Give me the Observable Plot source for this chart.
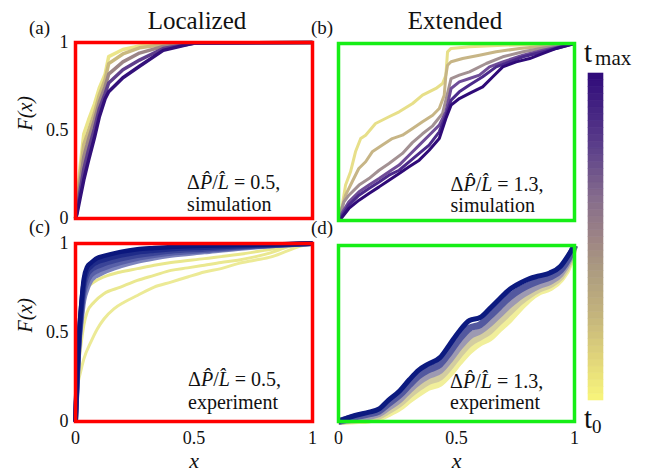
<!DOCTYPE html>
<html><head><meta charset="utf-8">
<script src="https://cdn.jsdelivr.net/npm/d3@7"></script>
<script src="https://cdn.jsdelivr.net/npm/@observablehq/plot@0.6"></script>
<style>
body{margin:0;background:#fff;}
#chart{position:relative;width:647px;height:472px;overflow:hidden;background:#fff;font-family:"Liberation Serif","DejaVu Serif","Times New Roman",serif;}
#chart svg{overflow:visible;}
#chart svg text{font-family:"Liberation Serif","DejaVu Serif","Times New Roman",serif;}
</style></head><body><div id="chart"></div>
<script>
// ---------- DATA ----------
// (a) Localized, simulation: F(x) curves from t0 (first) to tmax (last)
const aX = [0, 0.006, 0.02, 0.035, 0.055, 0.08, 0.1, 0.125, 0.14, 0.2, 0.27, 0.37, 0.5, 1];
const aF_t0 = [0, 0.09, 0.3, 0.48, 0.56, 0.65, 0.74, 0.82, 0.92, 0.96, 0.98, 0.993, 0.998, 1];
const aF_t1 = [0, 0.07, 0.26, 0.42, 0.5, 0.6, 0.7, 0.79, 0.88, 0.935, 0.97, 0.988, 0.997, 1];
const aF_t2 = [0, 0.05, 0.21, 0.35, 0.45, 0.56, 0.66, 0.75, 0.82, 0.89, 0.94, 0.978, 0.996, 1];
const aF_t3 = [0, 0.035, 0.16, 0.28, 0.39, 0.51, 0.62, 0.71, 0.77, 0.845, 0.9, 0.966, 0.996, 1];
const aF_tmax = [0, 0.025, 0.12, 0.22, 0.33, 0.46, 0.575, 0.68, 0.72, 0.8, 0.865, 0.955, 0.997, 1];

// (b) Extended, simulation: [x, F] pairs
const b_t0 = [[0,0],[0.016,0.086],[0.03,0.2],[0.051,0.275],[0.072,0.388],[0.094,0.463],[0.115,0.482],[0.157,0.548],[0.214,0.586],[0.257,0.614],[0.314,0.661],[0.356,0.708],[0.413,0.746],[0.441,0.774],[0.455,0.821],[0.462,0.953],[0.477,0.972],[0.555,0.981],[0.697,0.99],[0.84,0.995],[1,1]];
const b_t1 = [[0,0],[0.01,0.05],[0.03,0.143],[0.058,0.219],[0.086,0.294],[0.115,0.332],[0.143,0.388],[0.186,0.426],[0.228,0.463],[0.271,0.482],[0.314,0.52],[0.356,0.558],[0.399,0.595],[0.427,0.633],[0.448,0.708],[0.455,0.821],[0.462,0.877],[0.477,0.897],[0.526,0.915],[0.597,0.934],[0.668,0.953],[0.767,0.972],[0.909,0.99],[1,1]];
const b_t2 = [[0,0],[0.023,0.105],[0.044,0.143],[0.087,0.2],[0.129,0.237],[0.172,0.284],[0.214,0.322],[0.271,0.379],[0.313,0.44],[0.356,0.49],[0.399,0.535],[0.441,0.605],[0.462,0.718],[0.477,0.802],[0.512,0.821],[0.555,0.84],[0.626,0.887],[0.696,0.925],[0.782,0.953],[0.867,0.975],[1,1]];
const b_t3 = [[0,0],[0.009,0.03],[0.044,0.105],[0.087,0.162],[0.129,0.2],[0.172,0.237],[0.214,0.275],[0.257,0.313],[0.299,0.369],[0.342,0.426],[0.384,0.482],[0.427,0.539],[0.455,0.614],[0.477,0.746],[0.512,0.783],[0.555,0.802],[0.597,0.821],[0.64,0.868],[0.696,0.896],[0.782,0.934],[0.867,0.962],[1,1]];
const b_t4 = [[0,0],[0.01,0.02],[0.044,0.087],[0.087,0.143],[0.129,0.181],[0.172,0.218],[0.214,0.256],[0.257,0.284],[0.299,0.331],[0.342,0.379],[0.384,0.426],[0.427,0.501],[0.455,0.595],[0.477,0.68],[0.512,0.727],[0.555,0.765],[0.611,0.812],[0.668,0.868],[0.725,0.896],[0.782,0.925],[0.867,0.953],[1,1]];
const b_tmax = [[0,0],[0.01,0.01],[0.044,0.068],[0.087,0.115],[0.129,0.153],[0.172,0.19],[0.214,0.228],[0.257,0.266],[0.299,0.303],[0.342,0.341],[0.384,0.397],[0.427,0.463],[0.455,0.576],[0.477,0.652],[0.512,0.689],[0.555,0.718],[0.611,0.755],[0.654,0.812],[0.696,0.868],[0.753,0.896],[0.81,0.915],[0.867,0.944],[0.923,0.972],[1,1]];

// (c) Localized, experiment: early (yellow) curves as [x, F] pairs
const c_t0 = [[0,0],[0.007,0.181],[0.021,0.275],[0.035,0.35],[0.064,0.444],[0.092,0.52],[0.12,0.576],[0.162,0.633],[0.205,0.67],[0.261,0.708],[0.332,0.755],[0.403,0.783],[0.473,0.812],[0.544,0.84],[0.614,0.859],[0.685,0.887],[0.756,0.906],[0.826,0.925],[0.883,0.953],[0.939,0.981],[1,1]];
const c_t1 = [[0,0],[0.007,0.237],[0.021,0.407],[0.035,0.539],[0.049,0.614],[0.078,0.67],[0.12,0.718],[0.19,0.755],[0.261,0.793],[0.332,0.821],[0.403,0.849],[0.473,0.863],[0.544,0.878],[0.614,0.893],[0.685,0.906],[0.756,0.925],[0.826,0.949],[0.897,0.981],[1,1]];
const c_t2 = [[0,0],[0.007,0.313],[0.021,0.539],[0.035,0.689],[0.049,0.746],[0.078,0.783],[0.12,0.812],[0.19,0.84],[0.261,0.859],[0.332,0.878],[0.403,0.893],[0.544,0.915],[0.685,0.938],[0.826,0.968],[0.911,0.987],[1,1]];
// (c) later curves (dense band) on a shared x grid
const cX = [0, 0.007, 0.014, 0.024, 0.035, 0.049, 0.064, 0.078, 0.092, 0.12, 0.19, 0.261, 0.332, 0.403, 0.544, 0.685, 0.826, 1];
const cF_t3 = [0, 0.2, 0.407, 0.56, 0.68, 0.745, 0.79, 0.81, 0.821, 0.84, 0.874, 0.9, 0.919, 0.934, 0.953, 0.972, 0.987, 1];
const cF_t4 = [0, 0.22, 0.424, 0.585, 0.715, 0.782, 0.82, 0.836, 0.846, 0.862, 0.893, 0.916, 0.932, 0.945, 0.96, 0.976, 0.988, 1];
const cF_t5 = [0, 0.24, 0.44, 0.61, 0.75, 0.82, 0.848, 0.862, 0.871, 0.885, 0.912, 0.932, 0.945, 0.956, 0.968, 0.981, 0.99, 1];
const cF_t6 = [0, 0.26, 0.452, 0.632, 0.778, 0.846, 0.87, 0.886, 0.896, 0.908, 0.933, 0.951, 0.961, 0.969, 0.978, 0.986, 0.992, 1];
const cF_tmax = [0, 0.275, 0.463, 0.652, 0.802, 0.868, 0.89, 0.906, 0.918, 0.93, 0.953, 0.968, 0.975, 0.981, 0.987, 0.991, 0.994, 1];

// (d) Extended, experiment
const dX = [0, 0.07, 0.13, 0.17, 0.21, 0.26, 0.30, 0.34, 0.38, 0.43, 0.47, 0.51, 0.555, 0.60, 0.64, 0.68, 0.725, 0.77, 0.81, 0.85, 0.895, 0.94, 0.98, 1];
const dF_t0 = [0, 0.004, 0.009, 0.019, 0.043, 0.08, 0.122, 0.16, 0.194, 0.217, 0.269, 0.335, 0.401, 0.448, 0.473, 0.524, 0.58, 0.646, 0.699, 0.736, 0.759, 0.806, 0.9, 1];
const dF_t1 = [0, 0.009, 0.018, 0.03, 0.06, 0.102, 0.15, 0.192, 0.227, 0.252, 0.308, 0.377, 0.443, 0.48, 0.513, 0.565, 0.622, 0.68, 0.72, 0.752, 0.776, 0.82, 0.913, 1];
const dF_t2 = [0, 0.016, 0.03, 0.043, 0.079, 0.126, 0.18, 0.226, 0.26, 0.29, 0.35, 0.42, 0.485, 0.515, 0.556, 0.607, 0.664, 0.713, 0.745, 0.772, 0.795, 0.838, 0.928, 1];
const dF_t3 = [0, 0.025, 0.043, 0.058, 0.1, 0.152, 0.208, 0.26, 0.293, 0.325, 0.392, 0.466, 0.53, 0.55, 0.598, 0.65, 0.707, 0.75, 0.778, 0.8, 0.82, 0.858, 0.94, 1];
const dF_tmax = [0, 0.034, 0.053, 0.070, 0.119, 0.175, 0.237, 0.292, 0.326, 0.363, 0.435, 0.51, 0.574, 0.591, 0.64, 0.693, 0.75, 0.787, 0.812, 0.827, 0.844, 0.881, 0.957, 1];

// tick labels and texts
const axisTicks = [0, 0.5, 1];
const columnTitles = ["Localized", "Extended"];
const panelLabels = ["(a)", "(b)", "(c)", "(d)"];
const ratioValues = ["0.5", "1.3", "0.5", "1.3"];
const sourceLabels = ["simulation", "simulation", "experiment", "experiment"];

// ---------- STYLE ----------
const FONT = '"Liberation Serif", "DejaVu Serif", "Times New Roman", serif';
const RED = "#ff0000", GREEN = "#16ee16";
const palA = ["#ebe58a", "#c9b97f", "#9c8686", "#5f3f8c", "#33107a"];
const palB = ["#e7df89", "#c7b586", "#a39193", "#6f4d98", "#4b2a8b", "#2f0a78"];
const palC = ["#ecea96", "#eae890", "#e9e78c", "#7d84bd", "#5860a8", "#3a4497", "#1f2b89", "#0b177d"];
const palD = ["#f1ef9b", "#d3cda0", "#9d99b2", "#53589f", "#0c1a80"];
const cbDomain = [0, 0.12, 0.25, 0.4, 0.5, 0.62, 0.78, 1];
const cbRange = ["#f9f67b", "#e2d77a", "#c6b67c", "#ab9a80", "#9c8385", "#856c8c", "#5a3d8a", "#2f0a7a"];

const chart = document.getElementById("chart");
function place(node, left, top, w, h) {
  const div = document.createElement("div");
  div.style.cssText = `position:absolute;left:${left}px;top:${top}px;width:${w}px;height:${h}px;`;
  div.appendChild(node);
  chart.appendChild(div);
}
const toPts = (X, F) => F.map((f, i) => ({x: X[i], F: f}));
const fromPairs = (P) => P.map(([x, f]) => ({x, F: f}));

function panel({series, palette, widths, curve, frameColor, left, top, width, height, m, yAxis, xAxis, annot}) {
  const marks = series.map((pts, i) => Plot.line(pts, {x: "x", y: "F", curve, stroke: palette[i], strokeWidth: widths[i], strokeLinejoin: "round", strokeLinecap: "butt"}));
  marks.push(Plot.frame({stroke: frameColor, strokeWidth: 3.5}));
  if (yAxis) {
    marks.push(Plot.axisY({ticks: axisTicks, tickSize: 0, tickPadding: 7, tickFormat: d => String(d), label: null}));
    marks.push(Plot.text(["F(x)"], {text: d => d, frameAnchor: "left", dx: -50, rotate: -90, fontStyle: "italic", fontSize: 20}));
  }
  if (xAxis) {
    marks.push(Plot.axisX({ticks: axisTicks, tickSize: 0, tickPadding: 10, tickFormat: d => String(d), label: null}));
    marks.push(Plot.text(["x"], {text: d => d, frameAnchor: "bottom", dy: 46, fontStyle: "italic", fontSize: 22}));
  }
  const p = Plot.plot({
    width, height,
    marginLeft: m[0], marginRight: m[1], marginTop: m[2], marginBottom: m[3],
    x: {domain: [0, 1], axis: null},
    y: {domain: [0, 1], axis: null},
    style: {fontFamily: FONT, fontSize: "18px", background: "transparent", overflow: "visible", color: "#111"},
    marks
  });
  // annotation (two lines) placed via the plot's scales
  const sx = p.scale("x"), sy = p.scale("y");
  const g = d3.select(p).append("g").attr("text-anchor", "start").attr("font-size", 20).attr("fill", "#111");
  const t1 = g.append("text").attr("x", sx.apply(annot.x)).attr("y", sy.apply(annot.y1));
  t1.append("tspan").text("Δ");
  t1.append("tspan").attr("font-style", "italic").text("P\u0302");
  t1.append("tspan").text("/");
  t1.append("tspan").attr("font-style", "italic").text("L\u0302");
  t1.append("tspan").text(" = " + annot.value + ",");
  g.append("text").attr("x", sx.apply(annot.x)).attr("y", sy.apply(annot.y2)).text(annot.source);
  place(p, left, top, width, height);
}

// (a)
panel({
  series: [toPts(aX, aF_t0), toPts(aX, aF_t1), toPts(aX, aF_t2), toPts(aX, aF_t3), toPts(aX, aF_tmax)],
  palette: palA, widths: [3.5, 3.5, 3.5, 3.5, 3.5], curve: "linear", frameColor: RED,
  left: 0, top: 0, width: 320, height: 230, m: [75, 8, 42, 12], yAxis: true, xAxis: false,
  annot: {x: 0.473, y1: 0.162, y2: 0.04, value: ratioValues[0], source: sourceLabels[0]}
});
// (b)
panel({
  series: [b_t0, b_t1, b_t2, b_t3, b_t4, b_tmax].map(fromPairs),
  palette: palB, widths: [3, 3, 3, 3, 3, 3], curve: "linear", frameColor: GREEN,
  left: 320, top: 0, width: 270, height: 230, m: [18, 16, 43, 10], yAxis: false, xAxis: false,
  annot: {x: 0.477, y1: 0.162, y2: 0.045, value: ratioValues[1], source: sourceLabels[1]}
});
// (c)
panel({
  series: [fromPairs(c_t0), fromPairs(c_t1), fromPairs(c_t2), toPts(cX, cF_t3), toPts(cX, cF_t4), toPts(cX, cF_t5), toPts(cX, cF_t6), toPts(cX, cF_tmax)],
  palette: palC, widths: [3, 3, 3, 5, 5, 5, 5, 4.5], curve: "monotone-x", frameColor: RED,
  left: 0, top: 230, width: 320, height: 242, m: [75, 8, 13, 51], yAxis: true, xAxis: true,
  annot: {x: 0.477, y1: 0.195, y2: 0.067, value: ratioValues[2], source: sourceLabels[2]}
});
// (d)
panel({
  series: [toPts(dX, dF_t0), toPts(dX, dF_t1), toPts(dX, dF_t2), toPts(dX, dF_t3), toPts(dX, dF_tmax)],
  palette: palD, widths: [7, 7, 7, 7, 5], curve: "monotone-x", frameColor: GREEN,
  left: 320, top: 230, width: 270, height: 242, m: [18, 16, 15, 51], yAxis: false, xAxis: true,
  annot: {x: 0.475, y1: 0.185, y2: 0.068, value: ratioValues[3], source: sourceLabels[3]}
});

// colorbar (t0 bottom -> tmax top)
const cbN = 48;
const cbLevels = d3.range(cbN).map(i => i / cbN);
const cb = Plot.plot({
  width: 67, height: 360, marginLeft: 8, marginRight: 44, marginTop: 13, marginBottom: 20,
  x: {domain: [0, 1], axis: null}, y: {domain: [0, 1], axis: null},
  color: {type: "linear", domain: cbDomain, range: cbRange, interpolate: "rgb"},
  style: {background: "transparent", overflow: "visible"},
  marks: [Plot.rect(cbLevels, {x1: 0, x2: 1, y1: d => d, y2: d => d + 1 / cbN, fill: d => d + 0.5 / cbN, stroke: d => d + 0.5 / cbN, strokeWidth: 0.6})]
});
place(cb, 580, 60, 67, 360);

// overlay texts
const ov = d3.create("svg").attr("width", 647).attr("height", 472)
  .style("position", "absolute").style("left", "0px").style("top", "0px").style("pointer-events", "none")
  .attr("fill", "#111");
ov.append("text").attr("x", 197).attr("y", 29).attr("text-anchor", "middle").attr("font-size", 25).text(columnTitles[0]);
ov.append("text").attr("x", 455).attr("y", 29).attr("text-anchor", "middle").attr("font-size", 25).text(columnTitles[1]);
[[29, 34], [311, 34], [29, 233], [311, 234]].forEach(([x, y], i) =>
  ov.append("text").attr("x", x).attr("y", y).attr("font-size", 19).text(panelLabels[i]));
const tm = ov.append("text").attr("x", 584).attr("y", 62).attr("font-size", 29);
tm.append("tspan").text("t");
tm.append("tspan").attr("font-size", 21).attr("dx", 3).attr("dy", 3).text("max");
const t0 = ov.append("text").attr("x", 584).attr("y", 428).attr("font-size", 29);
t0.append("tspan").text("t");
t0.append("tspan").attr("font-size", 19).attr("dy", 5).text("0");
chart.appendChild(ov.node());
</script>
</body></html>
